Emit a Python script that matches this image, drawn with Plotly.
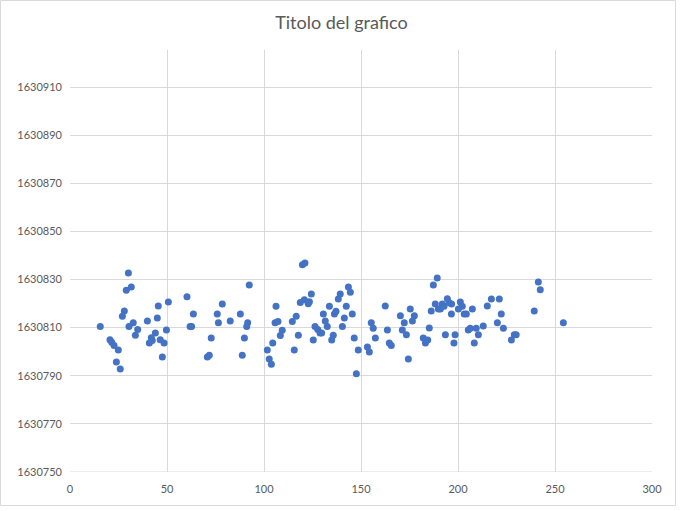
import plotly.graph_objects as go

title_text = "Titolo del grafico"
base = 1630800

x_vals = [15.6, 20.6, 21.5, 22.7, 24.9, 23.9, 25.9, 30.1, 29.0, 31.6, 28.0, 27.0, 30.4, 32.6, 34.9, 33.7,
          39.9, 41.9, 40.9, 42.4, 44.0, 45.0, 45.5, 46.5, 48.5, 47.6, 49.7, 50.7, 60.3, 63.6, 61.9, 62.7,
          72.8, 70.8, 71.8, 75.9, 76.5, 78.5, 82.6, 87.8, 89.9, 88.8, 91.6, 91.1, 92.4, 101.7, 102.7, 103.8,
          104.5, 105.7, 106.2, 107.2, 108.4, 109.4, 115.6, 114.6, 116.6, 117.7, 119.8, 121.1, 118.7, 120.8,
          122.8, 123.4, 124.4, 125.4, 126.3, 127.7, 128.9, 129.7, 130.6, 131.6, 132.6, 133.7, 134.9, 135.7,
          136.3, 137.1, 138.3, 139.3, 140.4, 141.4, 142.4, 143.5, 144.5, 145.5, 146.5, 148.6, 147.6, 153.3,
          154.3, 155.3, 156.3, 157.4, 162.5, 163.6, 164.6, 165.6, 170.3, 171.3, 172.3, 173.4, 174.4, 175.4,
          176.5, 177.5, 182.1, 183.2, 184.4, 185.2, 186.2, 187.3, 189.3, 188.3, 189.9, 190.9, 191.9, 192.8,
          194.5, 195.5, 196.7, 193.5, 196.6, 197.9, 198.5, 201.2, 202.2, 200.2, 203.2, 204.3, 205.3, 206.3,
          207.4, 208.4, 209.4, 210.5, 213.0, 215.1, 217.2, 221.3, 220.3, 222.3, 223.4, 227.5, 229.0, 230.0,
          239.3, 241.4, 242.4, 254.3]

y_offsets = [10.5, 5, 3.9, 2.6, 0.7, -4.3, -7.2, 32.7, 25.5, 26.9, 16.9, 14.7, 10.5, 12, 9.2, 6.8,
             12.8, 5.8, 3.6, 4.7, 7.8, 14, 19, 5, 3.6, -2.2, 9, 20.7, 22.8, 15.7, 10.5, 10.5,
             5.7, -2.2, -1.5, 15.7, 12, 19.8, 12.8, 15.7, 5.7, -1.5, 12, 10.5, 27.7, 0.7, -3, -5.2,
             3.6, 12, 18.9, 12.6, 6.7, 8.9, 0.7, 12.6, 14.7, 6.8, 36.1, 36.9, 20.5, 21.6,
             19.9, 20.8, 24, 4.9, 10.5, 9.2, 7.8, 7.8, 15.7, 12.8, 10.5, 18.9, 4.9, 6.8,
             15.7, 16.8, 21.9, 24, 10.5, 14, 18.9, 26.9, 24.7, 15.7, 5.7, 0.7, -9.2, 2,
             -0.1, 12, 9.7, 5.7, 19, 9, 3.6, 2.6, 14.9, 9, 12, 7, -3, 17.8,
             12.8, 14.9, 5.7, 3.6, 4.9, 9.9, 16.9, 27.7, 30.6, 19.8, 17.8, 17.8, 19.8, 18.9,
             22, 20.3, 19.8, 7, 15.7, 3.6, 7, 20.7, 18.9, 17.8, 15.7, 15.7, 9, 9.7,
             17.8, 3.6, 9.7, 7, 10.7, 19, 21.9, 21.9, 12, 15.7, 9.7, 4.9, 7, 7,
             16.9, 29, 25.7, 12]

y_vals = [base + v for v in y_offsets]

x_ticks = [0, 50, 100, 150, 200, 250, 300]
y_ticks = [1630750, 1630770, 1630790, 1630810, 1630830, 1630850, 1630870, 1630890, 1630910]

font_family = "Lato, 'Open Sans', sans-serif"
grid_col = "#D9D9D9"
txt_col = "#595959"

fig = go.Figure()
fig.add_trace(go.Scatter(
    x=x_vals, y=y_vals, mode="markers",
    marker=dict(color="#4472C4", size=7, line=dict(width=0)),
    showlegend=False, hoverinfo="x+y",
))

fig.update_layout(
    width=683, height=511,
    margin=dict(l=70, r=31, t=50, b=39),
    paper_bgcolor="white", plot_bgcolor="white",
    title=dict(text=title_text, x=0.5, xanchor="center", y=0.955, yanchor="middle",
               font=dict(family=font_family, size=18, color=txt_col)),
    font=dict(family=font_family, size=11, color=txt_col),
    xaxis=dict(range=[0, 300], tickvals=x_ticks, ticktext=[str(t) for t in x_ticks],
               showgrid=True, gridcolor=grid_col, gridwidth=1,
               zeroline=False, showline=False, ticks="", ticklen=0, ticklabelstandoff=9,
               tickfont=dict(family=font_family, size=11, color=txt_col)),
    yaxis=dict(range=[1630750, 1630925.4], tickvals=y_ticks, ticktext=[str(t) for t in y_ticks],
               showgrid=True, gridcolor=grid_col, gridwidth=1,
               zeroline=False, showline=False, ticks="", ticklen=0, ticklabelstandoff=7,
               tickfont=dict(family=font_family, size=11, color=txt_col)),
    shapes=[
        dict(type="line", xref="paper", yref="y", x0=0, x1=1, y0=1630750, y1=1630750,
             line=dict(color=grid_col, width=1)),
        dict(type="rect", xref="paper", yref="paper", x0=-0.1194, x1=1.0404, y0=-0.0794, y1=1.1173,
             line=dict(color=grid_col, width=1), fillcolor="rgba(0,0,0,0)", layer="below"),
    ],
)

fig.write_html("out.html", config={"displayModeBar": False},
               post_script="document.body.style.margin='0px';document.body.style.overflow='hidden';")
